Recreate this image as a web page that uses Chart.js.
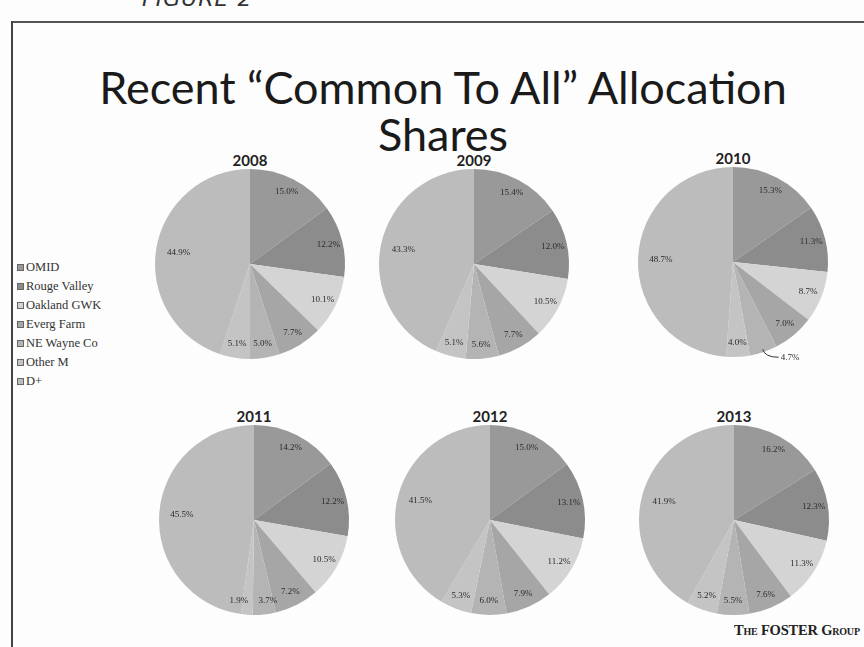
<!DOCTYPE html>
<html>
<head>
<meta charset="utf-8">
<script src="https://cdn.jsdelivr.net/npm/chart.js@4.4.0/dist/chart.umd.min.js"></script>
<style>
    body { margin: 0; background: #fff; }
    #page { position: relative; width: 864px; height: 647px; overflow: hidden; background: #fdfdfd; }
    .frame-top { position: absolute; left: 11px; top: 21px; width: 860px; height: 2px; background: #555; }
    .frame-left { position: absolute; left: 11px; top: 21px; width: 2px; height: 640px; background: #444; }
    .hand { position: absolute; left: 142px; top: -14px; font: italic 22px "DejaVu Sans"; color: #333; letter-spacing: 1px; }
    .title { position: absolute; left: 0; width: 886px; text-align: center; font-family: Lato, "Open Sans", sans-serif; font-size: 45px; color: #1a1a1a; line-height: 47px; top: 64px; white-space: nowrap; }
    .year { position: absolute; width: 80px; text-align: center; font: bold 15px Lato, sans-serif; color: #222; }
    .pie { position: absolute; }
    #legend { position: absolute; left: 17px; top: 258px; font: 12.5px "Liberation Serif", serif; color: #333; }
    #legend div { height: 19px; display: flex; align-items: center; }
    #legend span.box { display: inline-block; width: 5px; height: 5px; margin-right: 2px; border: 1px solid #666; }
    .foster { position: absolute; left: 734px; top: 622px; font: bold 14.5px "Liberation Serif", serif; font-variant: small-caps; color: #222; white-space: nowrap; letter-spacing: -0.2px; }
</style>
</head>
<body>
<div id="page">
    <div class="hand">FIGURE 2</div>
    <div class="frame-top"></div>
    <div class="frame-left"></div>
    <div class="title">Recent “Common To All” Allocation<br>Shares</div>
    <div id="legend"></div>
    <div class="foster">The FOSTER Group</div>
</div>

<script>
// --- datos ---
const categories = ['OMID', 'Rouge Valley', 'Oakland GWK', 'Everg Farm', 'NE Wayne Co', 'Other M', 'D+'];
const years = ['2008', '2009', '2010', '2011', '2012', '2013'];

const shares2008 = [15.0, 12.2, 10.1, 7.7, 5.0, 5.1, 44.9];
const shares2009 = [15.4, 12.0, 10.5, 7.7, 5.6, 5.1, 43.3];
const shares2010 = [15.3, 11.3, 8.7, 7.0, 4.7, 4.0, 48.7];
const shares2011 = [14.2, 12.2, 10.5, 7.2, 3.7, 1.9, 45.5];
const shares2012 = [15.0, 13.1, 11.2, 7.9, 6.0, 5.3, 41.5];
const shares2013 = [16.2, 12.3, 11.3, 7.6, 5.5, 5.2, 41.9];

const sliceColors = ['#999999', '#8c8c8c', '#d4d4d4', '#a6a6a6', '#b4b4b4', '#c4c4c4', '#bcbcbc'];

// posiciones de cada pastel (centro x, centro y)
const layout = [
    { data: shares2008, cx: 250, cy: 264 },
    { data: shares2009, cx: 474, cy: 264 },
    { data: shares2010, cx: 733, cy: 262 },
    { data: shares2011, cx: 254, cy: 520, nudge: { 4: 5, 5: -9 } },
    { data: shares2012, cx: 490, cy: 520 },
    { data: shares2013, cx: 734, cy: 520 }
];
const RADIUS = 95;

// --- leyenda ---
document.getElementById('legend').innerHTML = categories.map((c, i) =>
    `<div><span class="box" style="background:${sliceColors[i]}"></span>${c}</div>`
).join('');

// etiquetas de porcentaje dentro de cada porción
const sliceLabels = {
    id: 'sliceLabels',
    afterDatasetsDraw(chart, args, opts) {
        const ctx = chart.ctx;
        const values = chart.data.datasets[0].data;
        const meta = chart.getDatasetMeta(0);
        const callouts = opts.callouts || [];
        const nudge = opts.nudge || {};
        ctx.save();
        ctx.font = '9px "Liberation Serif"';
        ctx.fillStyle = '#2a2a2a';
        ctx.textBaseline = 'middle';
        ctx.textAlign = 'center';
        meta.data.forEach((arc, i) => {
            const p = arc.getProps(['x', 'y', 'startAngle', 'endAngle', 'outerRadius'], true);
            const mid = (p.startAngle + p.endAngle) / 2;
            const text = values[i].toFixed(1) + '%';
            if (callouts.includes(i)) {
                const ex = p.x + Math.cos(mid) * p.outerRadius * 0.97;
                const ey = p.y + Math.sin(mid) * p.outerRadius * 0.97;
                const lx = ex + 16, ly = ey + 8;
                ctx.strokeStyle = '#333';
                ctx.lineWidth = 1;
                ctx.beginPath();
                ctx.moveTo(ex, ey);
                ctx.quadraticCurveTo(ex + 2, ly, lx, ly);
                ctx.stroke();
                ctx.textAlign = 'left';
                ctx.fillText(text, lx + 2, ly);
                ctx.textAlign = 'center';
                return;
            }
            // porciones grandes: etiqueta más hacia el centro
            const r = p.outerRadius * (values[i] > 30 ? 0.76 : 0.85);
            ctx.fillText(text, p.x + Math.cos(mid) * r + (nudge[i] || 0), p.y + Math.sin(mid) * r);
        });
        ctx.restore();
    }
};

const page = document.getElementById('page');

layout.forEach((pie, idx) => {
    const yearEl = document.createElement('div');
    yearEl.className = 'year';
    yearEl.textContent = years[idx];
    yearEl.style.left = (pie.cx - 40) + 'px';
    yearEl.style.top = (pie.cy - RADIUS - 18) + 'px';
    page.appendChild(yearEl);

    const size = RADIUS * 2 + 40;
    const canvas = document.createElement('canvas');
    canvas.width = size;
    canvas.height = size;
    canvas.className = 'pie';
    canvas.style.left = (pie.cx - size / 2) + 'px';
    canvas.style.top = (pie.cy - size / 2) + 'px';
    page.appendChild(canvas);

    new Chart(canvas.getContext('2d'), {
        type: 'pie',
        data: {
            labels: categories,
            datasets: [{
                data: pie.data,
                backgroundColor: sliceColors,
                borderWidth: 0
            }]
        },
        options: {
            responsive: false,
            animation: false,
            radius: RADIUS,
            layout: { padding: 0 },
            plugins: {
                legend: { display: false },
                tooltip: { enabled: false },
                sliceLabels: { callouts: idx === 2 ? [4] : [], nudge: pie.nudge }
            }
        },
        plugins: [sliceLabels]
    });
});
</script>
</body>
</html>
